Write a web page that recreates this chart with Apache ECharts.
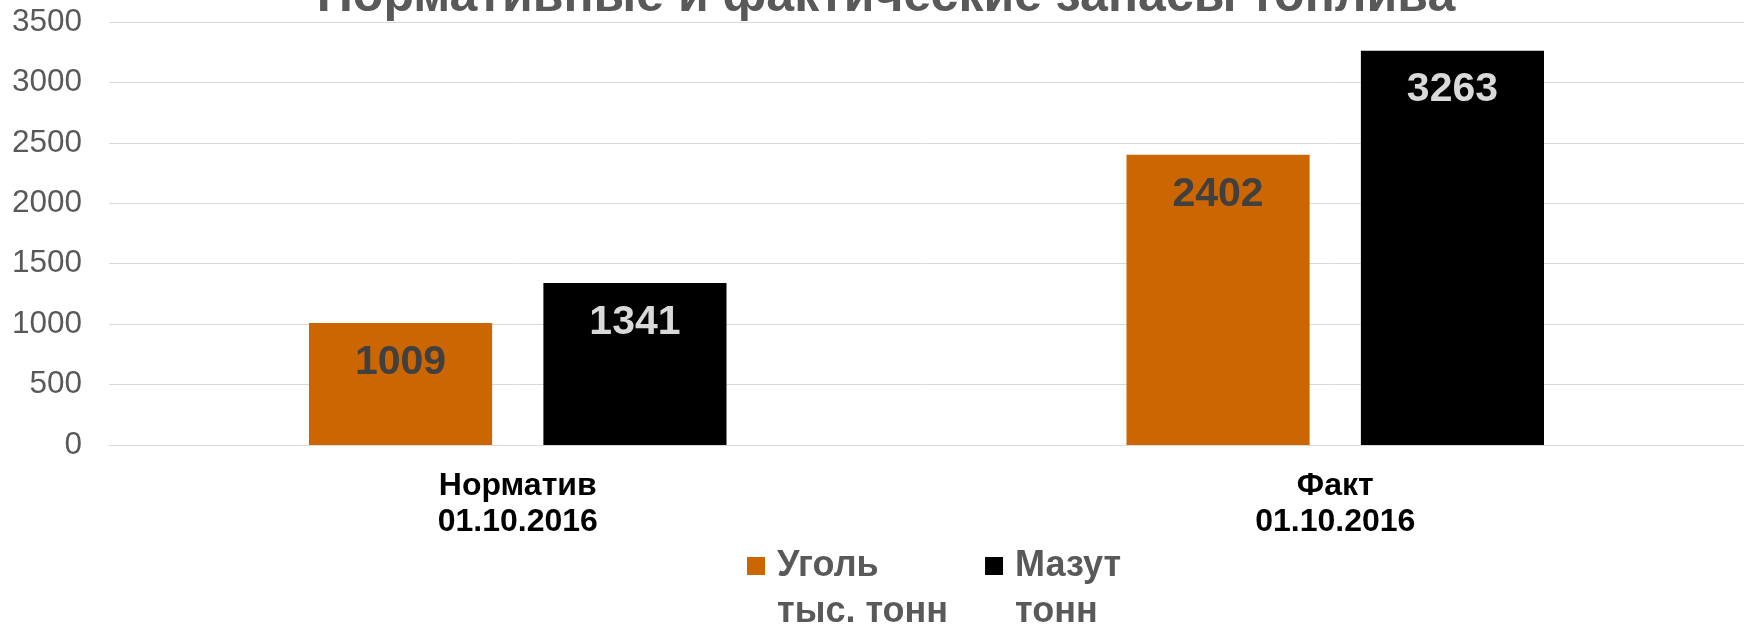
<!DOCTYPE html>
<html>
<head>
    <meta charset="utf-8">
    <script src="https://cdn.jsdelivr.net/npm/echarts@6/dist/echarts.min.js"></script>
    <title>Нормативные и фактические запасы топлива</title>
    <style>
        html, body { margin: 0; padding: 0; background: #fff; }
        #main { width: 1744px; height: 625px; }
    </style>
</head>

<body>
    <div id="main"></div>

    <script type="text/javascript">
        var categories = ['Норматив\n01.10.2016', 'Факт\n01.10.2016'];
        var seriesNames = ['Уголь\nтыс. тонн', 'Мазут\nтонн'];
        var coal = [1009, 2402];
        var fuelOil = [1341, 3263];
        var yTicks = [0, 3500, 500];   // min, max, interval

        var font = '"Liberation Sans", Arial, sans-serif';
        var myChart = echarts.init(document.getElementById('main'));

        myChart.setOption({
            backgroundColor: '#ffffff',
            animation: false,
            title: {
                text: 'Нормативные и фактические запасы топлива',
                left: 886,
                top: -28,
                textAlign: 'center',
                padding: 0,
                textStyle: {
                    fontFamily: font,
                    fontSize: 50,
                    fontWeight: 'bold',
                    color: '#595959'
                }
            },
            legend: {
                data: seriesNames,
                left: 747,
                top: 497,
                padding: 0,
                itemWidth: 18,
                itemHeight: 18,
                itemGap: 37,
                icon: 'rect',
                // blank first line so the square sits next to the first text line
                formatter: function (name) {
                    return ' \n' + name;
                },
                textStyle: {
                    fontFamily: font,
                    fontSize: 36,
                    fontWeight: 'bold',
                    color: '#595959',
                    lineHeight: 46,
                    padding: [0, 0, 0, 7]
                }
            },
            grid: {
                left: 109,
                right: 0,
                top: 22,
                bottom: 180
            },
            xAxis: {
                type: 'category',
                data: categories,
                axisLine: { show: true, lineStyle: { color: '#d9d9d9', width: 1 } },
                axisTick: { show: false },
                axisLabel: {
                    margin: 23,
                    fontFamily: font,
                    fontSize: 32,
                    fontWeight: 'bold',
                    lineHeight: 36,
                    color: '#000000'
                },
                splitLine: { show: false }
            },
            yAxis: {
                type: 'value',
                min: yTicks[0],
                max: yTicks[1],
                interval: yTicks[2],
                axisLine: { show: false },
                axisTick: { show: false },
                axisLabel: {
                    margin: 27,
                    fontFamily: font,
                    fontSize: 31.5,
                    color: '#595959',
                    formatter: function (v) { return String(v); }
                },
                splitLine: { show: true, lineStyle: { color: '#d9d9d9', width: 1 } }
            },
            series: [{
                name: seriesNames[0],
                type: 'bar',
                data: coal,
                barWidth: '22.4%',
                barGap: '28%',
                itemStyle: { color: '#cc6600' },
                label: {
                    show: true,
                    position: 'insideTop',
                    distance: 19,
                    fontFamily: font,
                    fontSize: 41,
                    fontWeight: 'bold',
                    color: '#404040'
                }
            }, {
                name: seriesNames[1],
                type: 'bar',
                data: fuelOil,
                barWidth: '22.4%',
                barGap: '28%',
                itemStyle: { color: '#000000' },
                label: {
                    show: true,
                    position: 'insideTop',
                    distance: 19,
                    fontFamily: font,
                    fontSize: 41,
                    fontWeight: 'bold',
                    color: '#d9d9d9'
                }
            }]
        });
    </script>
</body>

</html>
